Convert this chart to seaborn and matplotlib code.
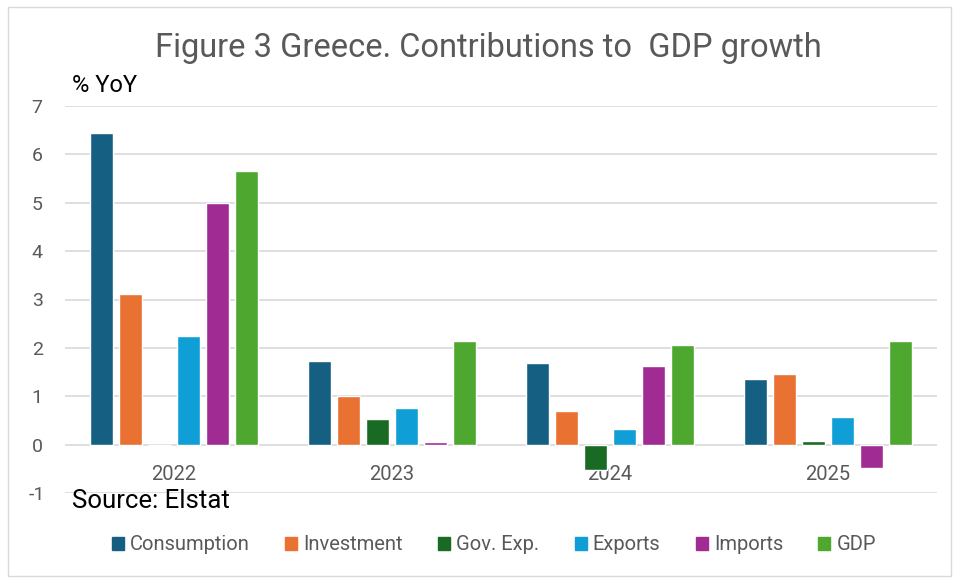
import matplotlib
matplotlib.use("Agg")
import matplotlib.pyplot as plt
import seaborn as sns
import pandas as pd
from matplotlib.patches import Rectangle

years = ["2022", "2023", "2024", "2025"]
components = ["Consumption", "Investment", "Gov. Exp.", "Exports", "Imports", "GDP"]
consumption = [6.44, 1.72, 1.68, 1.35]
investment = [3.11, 1.00, 0.69, 1.46]
gov_exp = [0.0, 0.52, -0.52, 0.07]
exports = [2.24, 0.76, 0.33, 0.57]
imports = [4.99, 0.06, 1.62, -0.49]
gdp = [5.65, 2.14, 2.05, 2.15]
colors = ["#156082", "#E97132", "#196B24", "#0F9ED5", "#A02B93", "#4EA72E"]

series = [consumption, investment, gov_exp, exports, imports, gdp]
rows = []
for comp, vals in zip(components, series):
    for y, v in zip(years, vals):
        rows.append({"Year": y, "Component": comp, "Value": v})
df = pd.DataFrame(rows)

sns.set_theme(style="white")
plt.rcParams["font.family"] = ["Roboto", "DejaVu Sans"]
text_gray = "#595959"

fig = plt.figure(figsize=(9.56, 5.80), dpi=100)
ax = fig.add_axes([65 / 956, 1 - 493 / 580, (937 - 65) / 956, (493 - 106) / 580])

sns.barplot(data=df, x="Year", y="Value", hue="Component", hue_order=components,
            palette=colors, order=years, width=0.8, gap=0.22, ax=ax,
            errorbar=None, legend=False, saturation=1)

ax.set_ylim(-1, 7)
ax.set_xlim(-0.5, 3.5)
ax.set_yticks(range(-1, 8))
ax.set_yticklabels([str(v) for v in range(-1, 8)], color=text_gray, fontsize=14)
ax.yaxis.grid(True, color="#d9d9d9", linewidth=1.2)
ax.set_axisbelow(True)
for s in ax.spines.values():
    s.set_visible(False)
ax.spines["bottom"].set_position(("data", 0))
ax.tick_params(axis="x", length=0, pad=15, labelsize=14.5, labelcolor=text_gray)
ax.tick_params(axis="y", length=0, pad=20)
for lbl in ax.get_yticklabels():
    lbl.set_horizontalalignment("center")
ax.set_xlabel("")
ax.set_ylabel("")

fig.text(488 / 956, 1 - 48 / 580, "Figure 3 Greece. Contributions to  GDP growth",
         ha="center", va="center", fontsize=23.5, color=text_gray)
fig.text(72 / 956, 1 - 86 / 580, "% YoY", ha="left", va="center", fontsize=17, color="black")
fig.text(72 / 956, 1 - 501 / 580, "Source: Elstat", ha="left", va="center", fontsize=18.5, color="black")

handles = [Rectangle((0, 0), 1, 1, color=c) for c in colors]
fig.legend(handles, components, loc="center", bbox_to_anchor=(494 / 956, 1 - 545 / 580),
           ncol=6, frameon=False, fontsize=14.5, labelcolor=text_gray,
           handlelength=0.6, handleheight=0.6, handletextpad=0.3, columnspacing=1.75)

fig.patches.append(Rectangle((8 / 956, 1 - 576 / 580), (951 - 8) / 956, (576 - 7) / 580,
                             transform=fig.transFigure, fill=False,
                             edgecolor="#d9d9d9", linewidth=1.0))

fig.savefig("out.png", dpi=100)
